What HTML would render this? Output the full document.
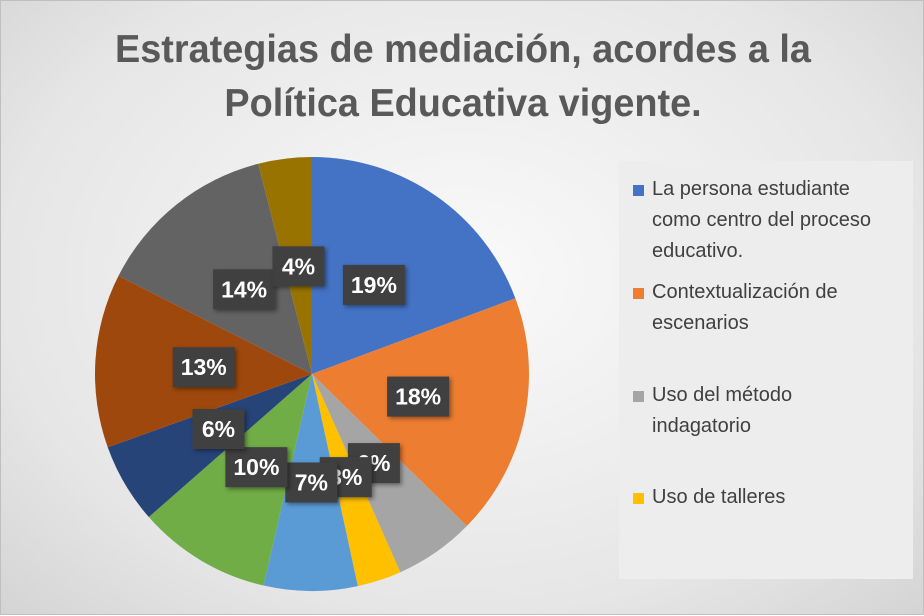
<!DOCTYPE html>
<html><head><meta charset="utf-8"><style>
body{margin:0;width:924px;height:615px;overflow:hidden;font-family:"Liberation Sans",sans-serif}
#c{position:relative;width:922px;height:613px;border:1px solid #bfbfbf;background:radial-gradient(ellipse at 50% 45%,#fafafa 0%,#e6e6e6 70%,#d4d4d4 100%)}
h1{position:absolute;left:0;width:924px;top:22px;margin:0;text-align:center;font-size:39px;line-height:54px;color:#595959;font-weight:bold;transform:scaleX(0.97)}
#legend{position:absolute;left:618px;top:160px;width:294px;height:418px;background:#ededed}
.le{position:absolute;left:14px;font-size:20px;color:#404040;line-height:31px}
.le i{position:absolute;left:0;top:11px;width:11px;height:11px}
.le span{display:block;margin-left:19px}
</style></head><body>
<div id="c">
<h1>Estrategias de mediación, acordes a la<br>Política Educativa vigente.</h1>
<svg id="pie" width="924" height="615" style="position:absolute;left:0;top:0"></svg>
<div id="legend">
<div class="le" style="top:13px"><i style="background:#4472C4"></i><span>La persona estudiante<br>como centro del proceso<br>educativo.</span></div>
<div class="le" style="top:116px"><i style="background:#ED7D31"></i><span>Contextualización de<br>escenarios</span></div>
<div class="le" style="top:219px"><i style="background:#A5A5A5"></i><span>Uso del método<br>indagatorio</span></div>
<div class="le" style="top:321px"><i style="background:#FFC000"></i><span>Uso de talleres</span></div>
</div>
</div>
<script>
const categories=["La persona estudiante como centro del proceso educativo.","Contextualización de escenarios","Uso del método indagatorio","Uso de talleres","Cat 5","Cat 6","Cat 7","Cat 8","Cat 9","Cat 10"];
const values=[19.4,18.1,6,3.3,7,10,6,13,13.6,4];
const labels=["19%","18%","6%","3%","7%","10%","6%","13%","14%","4%"];
const colors=["#4472C4","#ED7D31","#A5A5A5","#FFC000","#5B9BD5","#70AD47","#264478","#9E480E","#636363","#997300"];
const svg=document.getElementById('pie');
const NS="http://www.w3.org/2000/svg";
const cx=311,cy=373,R=217;
const total=values.reduce((a,b)=>a+b,0);
function pt(a,r){return [cx+r*Math.sin(a),cy-r*Math.cos(a)];}
let acc=0;const mids=[];
values.forEach((v,i)=>{
  const a0=acc/total*2*Math.PI;acc+=v;const a1=acc/total*2*Math.PI;
  const p0=pt(a0,R),p1=pt(a1,R);
  const path=document.createElementNS(NS,'path');
  path.setAttribute('d',`M${cx},${cy}L${p0[0]},${p0[1]}A${R},${R} 0 ${a1-a0>Math.PI?1:0} 1 ${p1[0]},${p1[1]}Z`);
  path.setAttribute('fill',colors[i]);
  
  
  svg.appendChild(path);
  mids.push((a0+a1)/2);
});
mids.forEach((m,i)=>{
  const p=pt(m,R*0.5);
  const w=labels[i].length>2?62:52,h=40;
  const g=document.createElementNS(NS,'g');
  
  
  const rc=document.createElementNS(NS,'rect');
  rc.setAttribute('x',p[0]-w/2);rc.setAttribute('y',p[1]-h/2);
  rc.setAttribute('width',w);rc.setAttribute('height',h);
  rc.setAttribute('fill','#404040');
  rc.setAttribute('style','filter:drop-shadow(2px 2px 2px rgba(0,0,0,.4))');
  const t=document.createElementNS(NS,'text');
  t.setAttribute('x',p[0]);t.setAttribute('y',p[1]+8);
  t.setAttribute('text-anchor','middle');t.setAttribute('fill','#fff');
  t.setAttribute('font-size','23');t.setAttribute('font-weight','bold');
  t.setAttribute('font-family','Liberation Sans, sans-serif');
  t.textContent=labels[i];
  g.appendChild(rc);g.appendChild(t);svg.appendChild(g);
});
</script>
</body></html>
